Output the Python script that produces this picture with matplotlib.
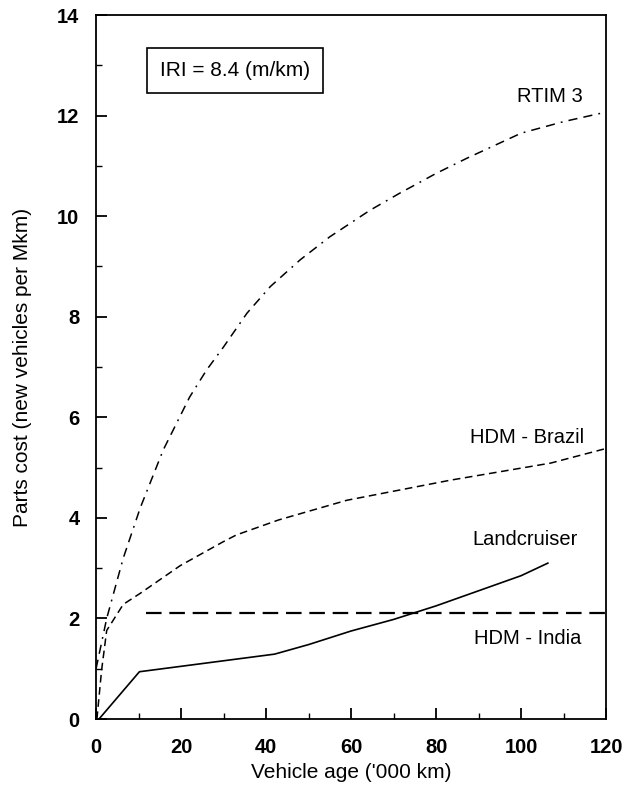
import matplotlib
matplotlib.use("Agg")
import matplotlib.pyplot as plt

plt.rcParams['font.family'] = ['Liberation Sans', 'DejaVu Sans']

# Data
rtim_x = [0, 2.5, 6.4, 10.4, 15.8, 22, 26, 30, 35.5, 41, 48, 55, 64.5, 71.3, 80, 87.2, 100, 110, 120]
rtim_y = [1.0, 2.0, 3.2, 4.2, 5.35, 6.4, 6.94, 7.4, 8.07, 8.6, 9.13, 9.59, 10.12, 10.45, 10.85, 11.15, 11.65, 11.88, 12.07]

brazil_x = [0.2, 1.3, 2.5, 6.4, 10.4, 19.8, 29.8, 33, 43, 59, 83.4, 107, 120]
brazil_y = [0.0, 0.97, 1.76, 2.28, 2.5, 3.05, 3.52, 3.66, 3.96, 4.35, 4.75, 5.09, 5.38]

land_x = [0.7, 10.2, 42, 50, 60, 70, 80, 90, 100, 106.3]
land_y = [0.0, 0.94, 1.29, 1.48, 1.75, 1.98, 2.25, 2.55, 2.85, 3.1]

india_x = [11.8, 120]
india_y = [2.1, 2.1]

labels = ["RTIM 3", "HDM - Brazil", "Landcruiser", "HDM - India"]
label_x = [106.8, 101.4, 101, 101.5]
label_y = [12.37, 5.6, 3.56, 1.61]

x_ticks = [0, 20, 40, 60, 80, 100, 120]
y_ticks = [0, 2, 4, 6, 8, 10, 12, 14]

fig = plt.figure(figsize=(6.32, 7.87), dpi=100)
ax = fig.add_axes([0.152, 0.0864, 0.807, 0.8945])

ax.plot(rtim_x, rtim_y, color='black', lw=1.1, dashes=(6, 4, 6, 4, 1.2, 4))
ax.plot(brazil_x, brazil_y, color='black', lw=1.1, dashes=(5, 3))
ax.plot(land_x, land_y, color='black', lw=1.2)
ax.plot(india_x, india_y, color='black', lw=1.6, dashes=(7, 3.5))

for t, x, y in zip(labels, label_x, label_y):
    ax.text(x, y, t, ha='center', va='center', fontsize=14.5)

ax.text(32.7, 12.9, "IRI = 8.4 (m/km)", ha='center', va='center', fontsize=15,
        bbox=dict(boxstyle='square,pad=0.62', facecolor='white', edgecolor='black', lw=1.2))

ax.set_xlim(0, 120)
ax.set_ylim(0, 14)
ax.set_xticks(x_ticks)
ax.set_yticks(y_ticks)
ax.set_xticks(range(0, 121, 10), minor=True)
ax.set_yticks(range(0, 15, 1), minor=True)
ax.tick_params(which='major', direction='in', length=8, width=1.3, labelsize=14.5)
ax.tick_params(which='minor', direction='in', length=4.5, width=1.0)
ax.tick_params(axis='x', which='major', pad=14)
ax.tick_params(axis='y', which='major', pad=12)
for lab in ax.get_xticklabels() + ax.get_yticklabels():
    lab.set_fontweight('bold')
for s in ax.spines.values():
    s.set_linewidth(1.3)

ax.set_xlabel("Vehicle age ('000 km)", fontsize=15, labelpad=4)
ax.set_ylabel("Parts cost (new vehicles per Mkm)", fontsize=15, labelpad=18)

fig.savefig("out.png", dpi=100)
